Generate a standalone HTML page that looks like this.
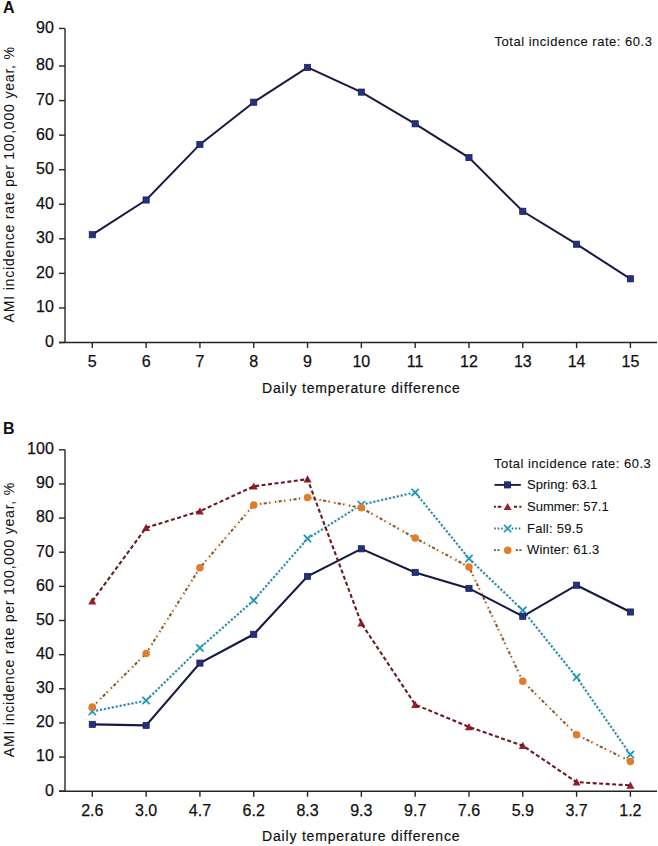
<!DOCTYPE html><html><head><meta charset="utf-8"><style>
html,body{margin:0;padding:0;background:#fff;width:658px;height:846px;overflow:hidden}
svg{display:block}
text{font-family:"Liberation Sans",sans-serif;fill:#111}
.tk{font-size:16px;stroke:#111;stroke-width:0.25px}
.lab{font-size:14px;stroke:#111;stroke-width:0.2px}
.tot{font-size:13px;stroke:#111;stroke-width:0.1px}
.leg{font-size:13px;stroke:#111;stroke-width:0.1px}
.pan{font-size:16px;font-weight:bold}
</style></head><body>
<svg width="658" height="846" viewBox="0 0 658 846">
<text x="3" y="12.8" class="pan">A</text>
<line x1="65.0" y1="28.45" x2="65.0" y2="342.5" stroke="#262626" stroke-width="1.4"/>
<line x1="59" y1="342.5" x2="657" y2="342.5" stroke="#262626" stroke-width="1.4"/>
<line x1="59" y1="342.50" x2="65.0" y2="342.50" stroke="#262626" stroke-width="1.4"/>
<text x="53.8" y="346.90" text-anchor="end" class="tk">0</text>
<line x1="59" y1="307.94" x2="65.0" y2="307.94" stroke="#262626" stroke-width="1.4"/>
<text x="53.8" y="312.34" text-anchor="end" class="tk">10</text>
<line x1="59" y1="273.38" x2="65.0" y2="273.38" stroke="#262626" stroke-width="1.4"/>
<text x="53.8" y="277.78" text-anchor="end" class="tk">20</text>
<line x1="59" y1="238.82" x2="65.0" y2="238.82" stroke="#262626" stroke-width="1.4"/>
<text x="53.8" y="243.22" text-anchor="end" class="tk">30</text>
<line x1="59" y1="204.26" x2="65.0" y2="204.26" stroke="#262626" stroke-width="1.4"/>
<text x="53.8" y="208.66" text-anchor="end" class="tk">40</text>
<line x1="59" y1="169.70" x2="65.0" y2="169.70" stroke="#262626" stroke-width="1.4"/>
<text x="53.8" y="174.10" text-anchor="end" class="tk">50</text>
<line x1="59" y1="135.14" x2="65.0" y2="135.14" stroke="#262626" stroke-width="1.4"/>
<text x="53.8" y="139.54" text-anchor="end" class="tk">60</text>
<line x1="59" y1="100.58" x2="65.0" y2="100.58" stroke="#262626" stroke-width="1.4"/>
<text x="53.8" y="104.98" text-anchor="end" class="tk">70</text>
<line x1="59" y1="66.02" x2="65.0" y2="66.02" stroke="#262626" stroke-width="1.4"/>
<text x="53.8" y="70.42" text-anchor="end" class="tk">80</text>
<line x1="59" y1="28.45" x2="65.0" y2="28.45" stroke="#262626" stroke-width="1.4"/>
<text x="53.8" y="32.85" text-anchor="end" class="tk">90</text>
<line x1="92.30" y1="342.5" x2="92.30" y2="348.1" stroke="#262626" stroke-width="1.4"/>
<line x1="146.11" y1="342.5" x2="146.11" y2="348.1" stroke="#262626" stroke-width="1.4"/>
<line x1="199.92" y1="342.5" x2="199.92" y2="348.1" stroke="#262626" stroke-width="1.4"/>
<line x1="253.73" y1="342.5" x2="253.73" y2="348.1" stroke="#262626" stroke-width="1.4"/>
<line x1="307.54" y1="342.5" x2="307.54" y2="348.1" stroke="#262626" stroke-width="1.4"/>
<line x1="361.35" y1="342.5" x2="361.35" y2="348.1" stroke="#262626" stroke-width="1.4"/>
<line x1="415.16" y1="342.5" x2="415.16" y2="348.1" stroke="#262626" stroke-width="1.4"/>
<line x1="468.97" y1="342.5" x2="468.97" y2="348.1" stroke="#262626" stroke-width="1.4"/>
<line x1="522.78" y1="342.5" x2="522.78" y2="348.1" stroke="#262626" stroke-width="1.4"/>
<line x1="576.59" y1="342.5" x2="576.59" y2="348.1" stroke="#262626" stroke-width="1.4"/>
<line x1="630.40" y1="342.5" x2="630.40" y2="348.1" stroke="#262626" stroke-width="1.4"/>
<text x="92.30" y="366.7" text-anchor="middle" class="tk">5</text>
<text x="146.11" y="366.7" text-anchor="middle" class="tk">6</text>
<text x="199.92" y="366.7" text-anchor="middle" class="tk">7</text>
<text x="253.73" y="366.7" text-anchor="middle" class="tk">8</text>
<text x="307.54" y="366.7" text-anchor="middle" class="tk">9</text>
<text x="361.35" y="366.7" text-anchor="middle" class="tk">10</text>
<text x="415.16" y="366.7" text-anchor="middle" class="tk">11</text>
<text x="468.97" y="366.7" text-anchor="middle" class="tk">12</text>
<text x="522.78" y="366.7" text-anchor="middle" class="tk">13</text>
<text x="576.59" y="366.7" text-anchor="middle" class="tk">14</text>
<text x="630.40" y="366.7" text-anchor="middle" class="tk">15</text>
<text x="262" y="392.5" class="lab" textLength="197.91" lengthAdjust="spacing">Daily temperature difference</text>
<g transform="translate(13.6,322.4) rotate(-90)">
<text x="0" y="0" class="lab" textLength="275.36" lengthAdjust="spacing" style="stroke-width:0.05px">AMI incidence rate per 100,000 year, %</text>
</g>
<text x="494.5" y="46" class="tot" textLength="157.45" lengthAdjust="spacing">Total incidence rate: 60.3</text>
<polyline points="92.30,234.70 146.11,200.00 199.92,144.40 253.73,102.20 307.54,67.40 361.35,92.10 415.16,123.80 468.97,157.60 522.78,211.30 576.59,244.20 630.40,278.80" fill="none" stroke="#161a45" stroke-width="2"/>
<rect x="89.20" y="231.60" width="6.2" height="6.2" fill="#27307a" stroke="#161b55" stroke-width="0.7"/>
<rect x="143.01" y="196.90" width="6.2" height="6.2" fill="#27307a" stroke="#161b55" stroke-width="0.7"/>
<rect x="196.82" y="141.30" width="6.2" height="6.2" fill="#27307a" stroke="#161b55" stroke-width="0.7"/>
<rect x="250.63" y="99.10" width="6.2" height="6.2" fill="#27307a" stroke="#161b55" stroke-width="0.7"/>
<rect x="304.44" y="64.30" width="6.2" height="6.2" fill="#27307a" stroke="#161b55" stroke-width="0.7"/>
<rect x="358.25" y="89.00" width="6.2" height="6.2" fill="#27307a" stroke="#161b55" stroke-width="0.7"/>
<rect x="412.06" y="120.70" width="6.2" height="6.2" fill="#27307a" stroke="#161b55" stroke-width="0.7"/>
<rect x="465.87" y="154.50" width="6.2" height="6.2" fill="#27307a" stroke="#161b55" stroke-width="0.7"/>
<rect x="519.68" y="208.20" width="6.2" height="6.2" fill="#27307a" stroke="#161b55" stroke-width="0.7"/>
<rect x="573.49" y="241.10" width="6.2" height="6.2" fill="#27307a" stroke="#161b55" stroke-width="0.7"/>
<rect x="627.30" y="275.70" width="6.2" height="6.2" fill="#27307a" stroke="#161b55" stroke-width="0.7"/>
<text x="3" y="433.7" class="pan">B</text>
<line x1="65.0" y1="449.80" x2="65.0" y2="791.2" stroke="#262626" stroke-width="1.4"/>
<line x1="59" y1="791.2" x2="657" y2="791.2" stroke="#262626" stroke-width="1.4"/>
<line x1="59" y1="791.20" x2="65.0" y2="791.20" stroke="#262626" stroke-width="1.4"/>
<text x="53.8" y="795.60" text-anchor="end" class="tk">0</text>
<line x1="59" y1="757.06" x2="65.0" y2="757.06" stroke="#262626" stroke-width="1.4"/>
<text x="53.8" y="761.46" text-anchor="end" class="tk">10</text>
<line x1="59" y1="722.92" x2="65.0" y2="722.92" stroke="#262626" stroke-width="1.4"/>
<text x="53.8" y="727.32" text-anchor="end" class="tk">20</text>
<line x1="59" y1="688.78" x2="65.0" y2="688.78" stroke="#262626" stroke-width="1.4"/>
<text x="53.8" y="693.18" text-anchor="end" class="tk">30</text>
<line x1="59" y1="654.64" x2="65.0" y2="654.64" stroke="#262626" stroke-width="1.4"/>
<text x="53.8" y="659.04" text-anchor="end" class="tk">40</text>
<line x1="59" y1="620.50" x2="65.0" y2="620.50" stroke="#262626" stroke-width="1.4"/>
<text x="53.8" y="624.90" text-anchor="end" class="tk">50</text>
<line x1="59" y1="586.36" x2="65.0" y2="586.36" stroke="#262626" stroke-width="1.4"/>
<text x="53.8" y="590.76" text-anchor="end" class="tk">60</text>
<line x1="59" y1="552.22" x2="65.0" y2="552.22" stroke="#262626" stroke-width="1.4"/>
<text x="53.8" y="556.62" text-anchor="end" class="tk">70</text>
<line x1="59" y1="518.08" x2="65.0" y2="518.08" stroke="#262626" stroke-width="1.4"/>
<text x="53.8" y="522.48" text-anchor="end" class="tk">80</text>
<line x1="59" y1="483.94" x2="65.0" y2="483.94" stroke="#262626" stroke-width="1.4"/>
<text x="53.8" y="488.34" text-anchor="end" class="tk">90</text>
<line x1="59" y1="449.80" x2="65.0" y2="449.80" stroke="#262626" stroke-width="1.4"/>
<text x="53.8" y="454.20" text-anchor="end" class="tk">100</text>
<line x1="92.30" y1="791.2" x2="92.30" y2="796.8000000000001" stroke="#262626" stroke-width="1.4"/>
<line x1="146.11" y1="791.2" x2="146.11" y2="796.8000000000001" stroke="#262626" stroke-width="1.4"/>
<line x1="199.92" y1="791.2" x2="199.92" y2="796.8000000000001" stroke="#262626" stroke-width="1.4"/>
<line x1="253.73" y1="791.2" x2="253.73" y2="796.8000000000001" stroke="#262626" stroke-width="1.4"/>
<line x1="307.54" y1="791.2" x2="307.54" y2="796.8000000000001" stroke="#262626" stroke-width="1.4"/>
<line x1="361.35" y1="791.2" x2="361.35" y2="796.8000000000001" stroke="#262626" stroke-width="1.4"/>
<line x1="415.16" y1="791.2" x2="415.16" y2="796.8000000000001" stroke="#262626" stroke-width="1.4"/>
<line x1="468.97" y1="791.2" x2="468.97" y2="796.8000000000001" stroke="#262626" stroke-width="1.4"/>
<line x1="522.78" y1="791.2" x2="522.78" y2="796.8000000000001" stroke="#262626" stroke-width="1.4"/>
<line x1="576.59" y1="791.2" x2="576.59" y2="796.8000000000001" stroke="#262626" stroke-width="1.4"/>
<line x1="630.40" y1="791.2" x2="630.40" y2="796.8000000000001" stroke="#262626" stroke-width="1.4"/>
<text x="92.30" y="815.5" text-anchor="middle" class="tk">2.6</text>
<text x="146.11" y="815.5" text-anchor="middle" class="tk">3.0</text>
<text x="199.92" y="815.5" text-anchor="middle" class="tk">4.7</text>
<text x="253.73" y="815.5" text-anchor="middle" class="tk">6.2</text>
<text x="307.54" y="815.5" text-anchor="middle" class="tk">8.3</text>
<text x="361.35" y="815.5" text-anchor="middle" class="tk">9.3</text>
<text x="415.16" y="815.5" text-anchor="middle" class="tk">9.7</text>
<text x="468.97" y="815.5" text-anchor="middle" class="tk">7.6</text>
<text x="522.78" y="815.5" text-anchor="middle" class="tk">5.9</text>
<text x="576.59" y="815.5" text-anchor="middle" class="tk">3.7</text>
<text x="630.40" y="815.5" text-anchor="middle" class="tk">1.2</text>
<text x="262" y="840.7" class="lab" textLength="197.51" lengthAdjust="spacing">Daily temperature difference</text>
<g transform="translate(13.6,757.2) rotate(-90)">
<text x="0" y="0" class="lab" textLength="274.36" lengthAdjust="spacing" style="stroke-width:0.05px">AMI incidence rate per 100,000 year, %</text>
</g>
<text x="494" y="467.6" class="tot" textLength="156.75" lengthAdjust="spacing">Total incidence rate: 60.3</text>
<polyline points="92.30,711.50 146.11,700.60 199.92,647.90 253.73,600.30 307.54,538.60 361.35,504.70 415.16,492.40 468.97,558.60 522.78,610.30 576.59,677.30 630.40,754.60" fill="none" stroke="#dcf4f9" stroke-width="2.8"/>
<polyline points="92.30,711.50 146.11,700.60 199.92,647.90 253.73,600.30 307.54,538.60 361.35,504.70 415.16,492.40 468.97,558.60 522.78,610.30 576.59,677.30 630.40,754.60" fill="none" stroke="#2b7890" stroke-width="2" stroke-dasharray="1.8 2.2"/>
<polyline points="92.30,707.00 146.11,653.50 199.92,567.80 253.73,504.90 307.54,497.60 361.35,507.80 415.16,538.10 468.97,566.90 522.78,681.30 576.59,734.70 630.40,761.40" fill="none" stroke="#fdf3e9" stroke-width="3"/>
<polyline points="92.30,707.00 146.11,653.50 199.92,567.80 253.73,504.90 307.54,497.60 361.35,507.80 415.16,538.10 468.97,566.90 522.78,681.30 576.59,734.70 630.40,761.40" fill="none" stroke="#7e542e" stroke-width="2" stroke-dasharray="3 2.4 1.3 4.6 1.3 2.4"/>
<polyline points="92.30,724.35 146.11,725.40 199.92,663.10 253.73,634.30 307.54,576.40 361.35,548.80 415.16,572.40 468.97,588.40 522.78,616.30 576.59,585.20 630.40,612.00" fill="none" stroke="#161a45" stroke-width="2.1"/>
<circle cx="92.30" cy="711.50" r="3" fill="#c6f0f8"/><path d="M88.60,707.80L96.00,715.20M96.00,707.80L88.60,715.20" stroke="#2290b0" stroke-width="1.6"/>
<circle cx="146.11" cy="700.60" r="3" fill="#c6f0f8"/><path d="M142.41,696.90L149.81,704.30M149.81,696.90L142.41,704.30" stroke="#2290b0" stroke-width="1.6"/>
<circle cx="199.92" cy="647.90" r="3" fill="#c6f0f8"/><path d="M196.22,644.20L203.62,651.60M203.62,644.20L196.22,651.60" stroke="#2290b0" stroke-width="1.6"/>
<circle cx="253.73" cy="600.30" r="3" fill="#c6f0f8"/><path d="M250.03,596.60L257.43,604.00M257.43,596.60L250.03,604.00" stroke="#2290b0" stroke-width="1.6"/>
<circle cx="307.54" cy="538.60" r="3" fill="#c6f0f8"/><path d="M303.84,534.90L311.24,542.30M311.24,534.90L303.84,542.30" stroke="#2290b0" stroke-width="1.6"/>
<circle cx="361.35" cy="504.70" r="3" fill="#c6f0f8"/><path d="M357.65,501.00L365.05,508.40M365.05,501.00L357.65,508.40" stroke="#2290b0" stroke-width="1.6"/>
<circle cx="415.16" cy="492.40" r="3" fill="#c6f0f8"/><path d="M411.46,488.70L418.86,496.10M418.86,488.70L411.46,496.10" stroke="#2290b0" stroke-width="1.6"/>
<circle cx="468.97" cy="558.60" r="3" fill="#c6f0f8"/><path d="M465.27,554.90L472.67,562.30M472.67,554.90L465.27,562.30" stroke="#2290b0" stroke-width="1.6"/>
<circle cx="522.78" cy="610.30" r="3" fill="#c6f0f8"/><path d="M519.08,606.60L526.48,614.00M526.48,606.60L519.08,614.00" stroke="#2290b0" stroke-width="1.6"/>
<circle cx="576.59" cy="677.30" r="3" fill="#c6f0f8"/><path d="M572.89,673.60L580.29,681.00M580.29,673.60L572.89,681.00" stroke="#2290b0" stroke-width="1.6"/>
<circle cx="630.40" cy="754.60" r="3" fill="#c6f0f8"/><path d="M626.70,750.90L634.10,758.30M634.10,750.90L626.70,758.30" stroke="#2290b0" stroke-width="1.6"/>
<circle cx="92.30" cy="707.00" r="3.75" fill="#df7d2a"/>
<circle cx="146.11" cy="653.50" r="3.75" fill="#df7d2a"/>
<circle cx="199.92" cy="567.80" r="3.75" fill="#df7d2a"/>
<circle cx="253.73" cy="504.90" r="3.75" fill="#df7d2a"/>
<circle cx="307.54" cy="497.60" r="3.75" fill="#df7d2a"/>
<circle cx="361.35" cy="507.80" r="3.75" fill="#df7d2a"/>
<circle cx="415.16" cy="538.10" r="3.75" fill="#df7d2a"/>
<circle cx="468.97" cy="566.90" r="3.75" fill="#df7d2a"/>
<circle cx="522.78" cy="681.30" r="3.75" fill="#df7d2a"/>
<circle cx="576.59" cy="734.70" r="3.75" fill="#df7d2a"/>
<circle cx="630.40" cy="761.40" r="3.75" fill="#df7d2a"/>
<polygon points="88.30,604.40 96.30,604.40 92.30,597.20" fill="#9a1f2c"/>
<polygon points="142.11,531.00 150.11,531.00 146.11,523.80" fill="#9a1f2c"/>
<polygon points="195.92,514.50 203.92,514.50 199.92,507.30" fill="#9a1f2c"/>
<polygon points="249.73,489.60 257.73,489.60 253.73,482.40" fill="#9a1f2c"/>
<polygon points="303.54,482.50 311.54,482.50 307.54,475.30" fill="#9a1f2c"/>
<polygon points="357.35,626.60 365.35,626.60 361.35,619.40" fill="#9a1f2c"/>
<polygon points="411.16,707.90 419.16,707.90 415.16,700.70" fill="#9a1f2c"/>
<polygon points="464.97,730.20 472.97,730.20 468.97,723.00" fill="#9a1f2c"/>
<polygon points="518.78,749.00 526.78,749.00 522.78,741.80" fill="#9a1f2c"/>
<polygon points="572.59,785.40 580.59,785.40 576.59,778.20" fill="#9a1f2c"/>
<polygon points="626.40,788.70 634.40,788.70 630.40,781.50" fill="#9a1f2c"/>
<polyline points="92.30,601.10 146.11,527.70 199.92,511.20 253.73,486.30 307.54,479.20 361.35,623.30 415.16,704.60 468.97,726.90 522.78,745.70 576.59,782.10 630.40,785.40" fill="none" stroke="#6a1a22" stroke-width="2.1" stroke-dasharray="4 2.5"/>
<rect x="89.20" y="721.25" width="6.2" height="6.2" fill="#27307a" stroke="#161b55" stroke-width="0.7"/>
<rect x="143.01" y="722.30" width="6.2" height="6.2" fill="#27307a" stroke="#161b55" stroke-width="0.7"/>
<rect x="196.82" y="660.00" width="6.2" height="6.2" fill="#27307a" stroke="#161b55" stroke-width="0.7"/>
<rect x="250.63" y="631.20" width="6.2" height="6.2" fill="#27307a" stroke="#161b55" stroke-width="0.7"/>
<rect x="304.44" y="573.30" width="6.2" height="6.2" fill="#27307a" stroke="#161b55" stroke-width="0.7"/>
<rect x="358.25" y="545.70" width="6.2" height="6.2" fill="#27307a" stroke="#161b55" stroke-width="0.7"/>
<rect x="412.06" y="569.30" width="6.2" height="6.2" fill="#27307a" stroke="#161b55" stroke-width="0.7"/>
<rect x="465.87" y="585.30" width="6.2" height="6.2" fill="#27307a" stroke="#161b55" stroke-width="0.7"/>
<rect x="519.68" y="613.20" width="6.2" height="6.2" fill="#27307a" stroke="#161b55" stroke-width="0.7"/>
<rect x="573.49" y="582.10" width="6.2" height="6.2" fill="#27307a" stroke="#161b55" stroke-width="0.7"/>
<rect x="627.30" y="608.90" width="6.2" height="6.2" fill="#27307a" stroke="#161b55" stroke-width="0.7"/>
<line x1="494.5" y1="484.9" x2="520.8" y2="484.9" stroke="#161a45" stroke-width="1.9"/>
<rect x="504.40" y="481.80" width="6.2" height="6.2" fill="#27307a" stroke="#161b55" stroke-width="0.7"/>
<path d="M494,506.8H495.9M497.7,506.8H501.4M513.9,506.8H517.1M519.3,506.8H521.4" stroke="#6a1a22" stroke-width="2"/>
<polygon points="503.60,510.10 511.60,510.10 507.60,502.90" fill="#9a1f2c"/>
<line x1="494.2" y1="528.5" x2="521.5" y2="528.5" stroke="#2b7890" stroke-width="1.8" stroke-dasharray="1.6 1.9"/>
<circle cx="507.60" cy="528.50" r="3" fill="#c6f0f8"/><path d="M503.90,524.80L511.30,532.20M511.30,524.80L503.90,532.20" stroke="#2290b0" stroke-width="1.6"/>
<path d="M494,550.2H495.9M497.5,550.2H499.6M515.8,550.2H517.9M519.3,550.2H521.6" stroke="#7e542e" stroke-width="1.8"/>
<circle cx="507.70" cy="550.20" r="3.75" fill="#df7d2a"/>
<text x="527.0" y="489.1" class="leg" textLength="70.31" lengthAdjust="spacing">Spring: 63.1</text>
<text x="527.0" y="510.9" class="leg" textLength="81.66" lengthAdjust="spacing">Summer: 57.1</text>
<text x="527.0" y="532.5" class="leg" textLength="55.88" lengthAdjust="spacing">Fall: 59.5</text>
<text x="527.0" y="554.1" class="leg" textLength="72.19" lengthAdjust="spacing">Winter: 61.3</text>
</svg></body></html>
